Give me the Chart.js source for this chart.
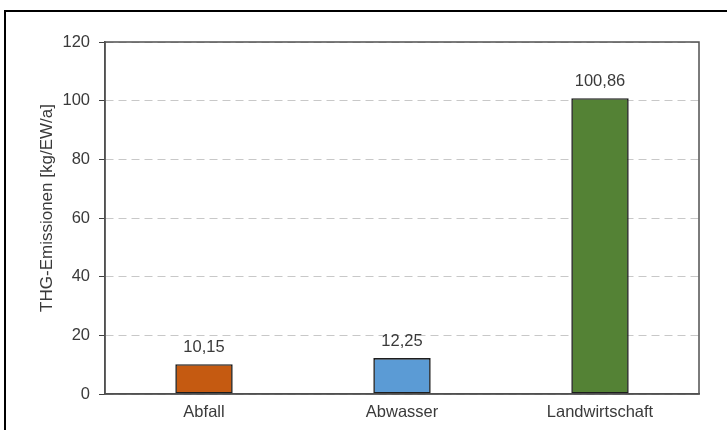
<!DOCTYPE html>
<html>
<head>
<meta charset="utf-8">
<script src="https://cdn.jsdelivr.net/npm/chart.js@4"></script>
<style>
  html, body { margin: 0; padding: 0; background: #fff; }
  #wrap { width: 727px; height: 430px; position: relative; }
</style>
</head>
<body>
<div id="wrap"><canvas id="chart" width="727" height="430"></canvas></div>
<script>
const categories = ["Abfall", "Abwasser", "Landwirtschaft"];
const emissions = [10.15, 12.25, 100.86];
const barColors = ["#C55A11", "#5B9BD5", "#548235"];
const yTicks = [0, 20, 40, 60, 80, 100, 120];
const yTitle = "THG-Emissionen [kg/EW/a]";

const textColor = "#3a3a3a";
const fontFamily = "'Liberation Sans', Arial, sans-serif";

function formatValue(v) {
	return v.toFixed(2).replace(".", ",");
}

// frame around the page, plot border, value labels and the rotated axis title
const extrasPlugin = {
	id: "extras",
	afterDraw(chart) {
		const ctx = chart.ctx;
		const area = chart.chartArea;
		ctx.save();

		ctx.strokeStyle = "#505050";
		ctx.lineWidth = 1.5;
		ctx.strokeRect(area.left, area.top, area.right - area.left, area.bottom - area.top);

		ctx.fillStyle = "#000";
		ctx.fillRect(4, 10, 723, 2);
		ctx.fillRect(4, 10, 2, 420);

		ctx.fillStyle = textColor;
		ctx.font = "16.5px " + fontFamily;
		ctx.textAlign = "center";
		ctx.textBaseline = "middle";
		const meta = chart.getDatasetMeta(0);
		meta.data.forEach((bar, i) => {
			ctx.fillText(formatValue(emissions[i]), bar.x, bar.y - 17);
		});

		ctx.translate(47, (area.top + area.bottom) / 2 - 10);
		ctx.rotate(-Math.PI / 2);
		ctx.font = "17px " + fontFamily;
		ctx.fillText(yTitle, 0, 0);
		ctx.restore();
	}
};

new Chart(document.getElementById("chart"), {
	type: "bar",
	data: {
		labels: categories,
		datasets: [{
			data: emissions,
			backgroundColor: barColors,
			borderColor: "#1e1e1e",
			borderWidth: 1.6,
			borderSkipped: false,
			barPercentage: 0.29,
			categoryPercentage: 1
		}]
	},
	options: {
		responsive: false,
		animation: false,
		layout: { padding: { left: 36, top: 42, right: 28, bottom: 0 } },
		plugins: {
			legend: { display: false },
			tooltip: { enabled: false }
		},
		scales: {
			x: {
				grid: { display: false, drawTicks: false },
				border: { display: true, color: "#505050", width: 1.5 },
				ticks: {
					color: textColor,
					font: { size: 16.5, family: fontFamily },
					padding: 9
				},
				afterFit(scale) { scale.height = 36; }
			},
			y: {
				min: 0,
				max: 120,
				afterBuildTicks(scale) { scale.ticks = yTicks.map(v => ({ value: v })); },
				grid: {
					color: "#c8c8c8",
					lineWidth: 1,
					tickLength: 6,
					tickColor: "#404040",
					tickBorderDash: []
				},
				border: { display: true, color: "#505050", width: 1.5, dash: [8, 5] },
				ticks: {
					color: textColor,
					font: { size: 16.5, family: fontFamily },
					padding: 9
				},
				afterFit(scale) { scale.width = 69; }
			}
		}
	},
	plugins: [extrasPlugin]
});
</script>
</body>
</html>
